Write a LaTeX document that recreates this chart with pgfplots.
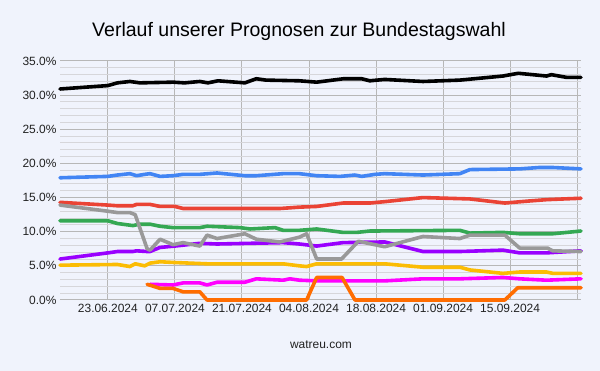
\documentclass[border=0pt]{standalone}
\usepackage{pgfplots}
\pgfplotsset{compat=1.18}
\usepackage{fontspec}
\setmainfont{Liberation Sans}
\definecolor{bg}{RGB}{240,243,252}
\definecolor{gmaj}{RGB}{183,183,183}
\definecolor{gmin}{RGB}{214,214,218}
\definecolor{lab}{RGB}{34,34,34}
\definecolor{cblack}{RGB}{0,0,0}
\definecolor{cblue}{RGB}{66,133,244}
\definecolor{cred}{RGB}{234,67,53}
\definecolor{cgreen}{RGB}{52,168,83}
\definecolor{cgray}{RGB}{153,153,153}
\definecolor{cpurple}{RGB}{153,0,255}
\definecolor{cyellow}{RGB}{251,188,4}
\definecolor{cmagenta}{RGB}{255,0,255}
\definecolor{corange}{RGB}{255,109,1}
\begin{document}
\begin{tikzpicture}
\fill[bg] (0,0) rectangle (600bp,371bp);
\node[font=\fontsize{19.6}{22}\selectfont, text=black] at (299bp,340bp) {Verlauf unserer Prognosen zur Bundestagswahl};
\node[font=\fontsize{12}{14}\selectfont, text=lab] at (321bp,26bp) {watreu.com};
\begin{axis}[
  at={(60bp,71bp)}, anchor=south west,
  width=521bp, height=239bp, scale only axis,
  xmin=0, xmax=108.8, ymin=0, ymax=35,
  axis line style={draw=none},
  tick style={draw=none},
  ytick={0,5,...,35},
  yticklabels={0.0\%,5.0\%,10.0\%,15.0\%,20.0\%,25.0\%,30.0\%,35.0\%},
  minor y tick num=4,
  xtick={10,24,38,52,66,80,94,108},
  xticklabels={23.06.2024,07.07.2024,21.07.2024,04.08.2024,18.08.2024,01.09.2024,15.09.2024,{}},
  ymajorgrids, yminorgrids, xmajorgrids,
  major grid style={draw=gmaj, line width=1bp},
  minor grid style={draw=gmin, line width=1bp},
  extra y ticks={0}, extra y tick labels={},
  extra y tick style={grid style={draw=black, line width=1bp}},
  ticklabel style={font=\fontsize{12}{14}\selectfont, text=lab},
  xticklabel style={yshift=-1bp},
  clip=false,
  every axis plot/.append style={line width=3.6bp, line join=round, line cap=round, no marks},
]
\addplot[cblack] coordinates {(0,30.9)(10,31.4)(12,31.8)(14.6,32.0)(16.7,31.8)(23.6,31.9)(26,31.8)(29.2,32.0)(30.9,31.8)(33,32.1)(38.6,31.8)(41,32.4)(43,32.2)(50,32.1)(53.6,31.9)(59.2,32.4)(63,32.4)(64.7,32.1)(67.8,32.3)(75.8,32.0)(83.5,32.2)(92.5,32.8)(95.7,33.2)(101.6,32.8)(102.6,33.0)(105.8,32.6)(108.8,32.6)};
\addplot[cblue] coordinates {(0,17.9)(10,18.1)(12,18.3)(14.6,18.5)(16,18.2)(17.7,18.4)(18.8,18.5)(20.9,18.1)(23.6,18.2)(25.7,18.4)(29.2,18.4)(32.8,18.6)(38.6,18.2)(41,18.2)(46.6,18.5)(50,18.5)(53.6,18.2)(58.5,18.1)(61.6,18.3)(63,18.1)(65.8,18.4)(67.8,18.5)(75.8,18.3)(83.5,18.5)(85.6,19.1)(96,19.2)(100,19.4)(103,19.4)(108.8,19.2)};
\addplot[cred] coordinates {(0,14.3)(10,13.9)(12,13.8)(15.2,13.8)(16,14.0)(18.8,14.0)(20.9,13.7)(24,13.7)(25.7,13.4)(46,13.4)(50,13.6)(53.6,13.7)(59.1,14.2)(64.7,14.2)(67.8,14.4)(75.8,15.0)(85.6,14.8)(92.9,14.2)(98,14.5)(101.7,14.7)(108.8,14.9)};
\addplot[cgreen] coordinates {(0,11.6)(10,11.6)(12,11.2)(15.2,10.9)(16.7,11.1)(18.8,11.1)(20.9,10.8)(23.6,10.6)(29.2,10.6)(30.7,10.8)(37.6,10.6)(39.7,10.4)(44.9,10.6)(46.6,10.2)(50,10.2)(53.6,10.4)(59.1,9.9)(62,9.9)(64.7,10.1)(83.5,10.2)(85.6,9.8)(92.5,9.9)(96,9.7)(102.9,9.7)(108.8,10.1)};
\addplot[cpurple] coordinates {(0,6.0)(10,6.9)(12,7.1)(15.2,7.1)(16,7.2)(18.2,7.1)(18.8,7.1)(20.9,7.7)(24,7.9)(29.2,8.3)(32.8,8.2)(46.6,8.4)(50,8.2)(53.6,7.9)(59.1,8.4)(67.8,8.5)(75.8,7.1)(83.5,7.1)(92.5,7.3)(96,6.9)(101.6,6.9)(108.8,7.2)};
\addplot[cgray] coordinates {(0,13.9)(10,13.0)(12,12.8)(14.6,12.8)(15.7,12.5)(18.2,7.5)(18.8,7.3)(20.9,8.9)(23.6,8.1)(25.7,8.4)(29.2,7.9)(30.7,9.5)(32.8,9.0)(38.6,9.7)(41,8.9)(45.9,8.5)(50,9.2)(51.5,9.7)(53.6,6.0)(58.8,6.0)(62.3,8.6)(67.8,7.8)(75.8,9.3)(83.5,9.0)(85.6,9.5)(92.9,9.5)(96,7.6)(101.8,7.6)(102.9,7.2)(108.8,7.1)};
\addplot[cyellow] coordinates {(0,5.1)(12,5.2)(14.6,4.9)(15.7,5.3)(17.7,5.0)(18.8,5.4)(20.9,5.6)(23.6,5.5)(30.7,5.3)(46.6,5.3)(50,5.0)(51.5,4.9)(53.6,5.3)(67.8,5.3)(75.8,4.8)(83.5,4.8)(85.6,4.4)(92.5,3.9)(96,4.1)(101.6,4.1)(102.9,3.9)(108.8,3.9)};
\addplot[cmagenta] coordinates {(18.8,2.3)(23.6,2.2)(25.7,2.5)(29.2,2.5)(30.7,2.2)(32.8,2.6)(38.6,2.6)(41,3.1)(46.6,2.9)(48,3.1)(50,2.9)(53.6,2.8)(67.8,2.8)(75.8,3.1)(83.5,3.1)(92.5,3.3)(96,3.1)(101.6,2.9)(108.8,3.1)};
\addplot[corange] coordinates {(18.2,2.3)(20.9,1.7)(23.6,1.7)(25.7,1.2)(29.2,1.2)(30.7,0)(51.5,0)(53.6,3.3)(58.9,3.3)(61.6,0)(92.9,0)(95.6,1.8)(108.8,1.8)};
\end{axis}
\end{tikzpicture}
\end{document}
